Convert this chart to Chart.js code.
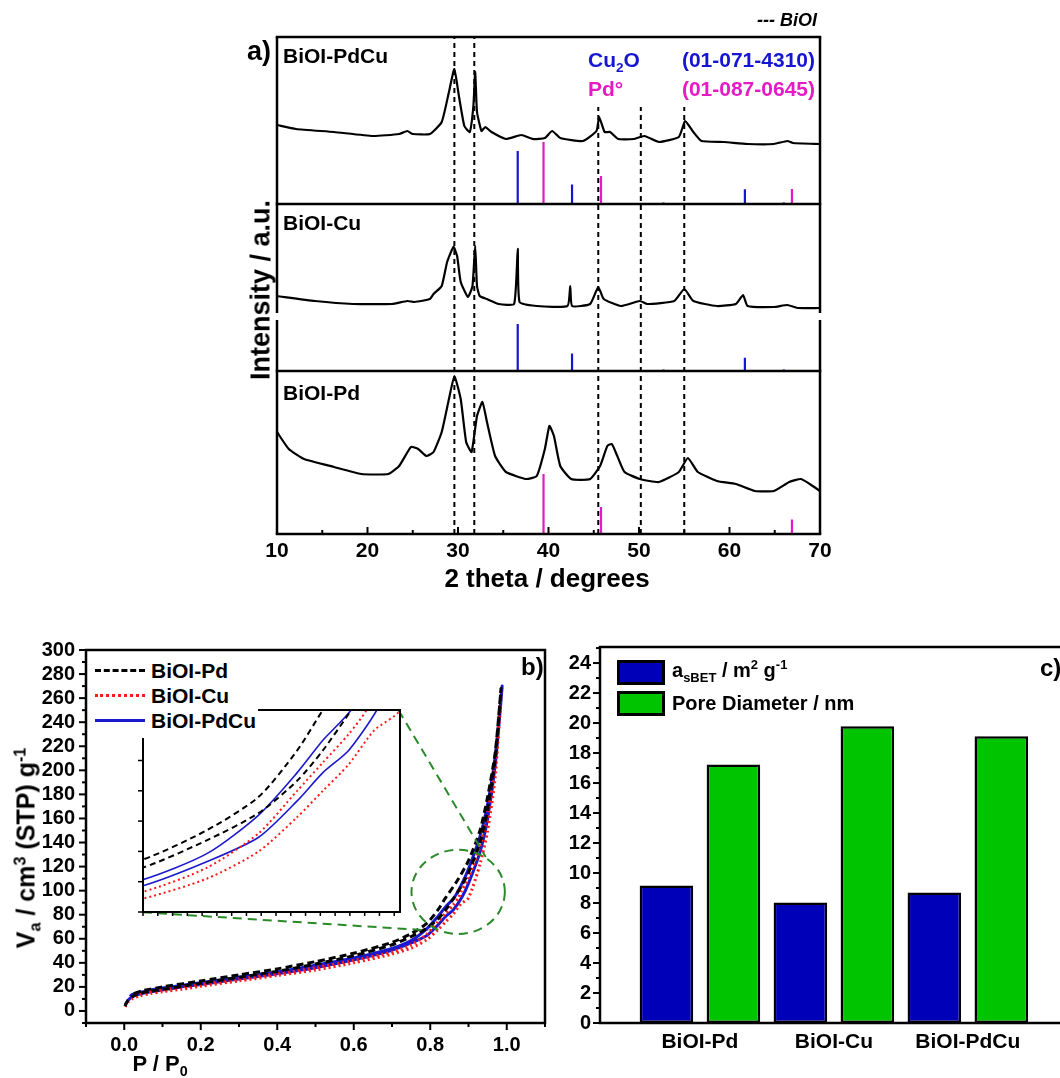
<!DOCTYPE html>
<html><head><meta charset="utf-8">
<script src="https://cdn.jsdelivr.net/npm/chart.js@4.4.1/dist/chart.umd.min.js"></script>
<style>
html,body{margin:0;padding:0;background:#fff;width:1060px;height:1078px;overflow:hidden;font-family:"Liberation Sans",Arial,sans-serif;}
#wrap{position:relative;width:1060px;height:1078px;overflow:hidden;}
canvas{position:absolute;}
.t{position:absolute;font-weight:bold;white-space:nowrap;color:#000;line-height:1;}
.rot{position:absolute;font-weight:bold;white-space:nowrap;color:#000;line-height:1;transform:translate(-50%,-50%) rotate(-90deg);}
.ctr{transform:translate(-50%,-50%);}
sub,sup{font-size:65%;line-height:0;}
.ls{position:absolute;height:0;}
</style></head><body><div id="wrap">
<canvas id="ca" style="left:0;top:0" width="1060" height="600"></canvas>
<canvas id="cb" style="left:0;top:600px" width="560" height="478"></canvas>
<canvas id="cc" style="left:560px;top:600px" width="540" height="478"></canvas>
<canvas id="ci" style="left:133px;top:700px" width="280" height="225"></canvas>

<!-- panel a text -->
<div class="t" style="left:247px;top:38px;font-size:27px">a)</div>
<div class="t" style="left:283px;top:45px;font-size:21px">BiOI-PdCu</div>
<div class="t" style="right:243px;top:11px;font-size:18px;font-style:italic">--- BiOI</div>
<div class="t" style="left:588px;top:49px;font-size:21px;color:#1616d2">Cu<sub>2</sub>O</div>
<div class="t" style="right:245px;top:49px;font-size:21px;color:#1616d2">(01-071-4310)</div>
<div class="t" style="left:588px;top:78px;font-size:21px;color:#e41bc4">Pd°</div>
<div class="t" style="right:245px;top:78px;font-size:21px;color:#e41bc4">(01-087-0645)</div>
<div class="t" style="left:283px;top:212px;font-size:21px">BiOI-Cu</div>
<div class="t" style="left:283px;top:382px;font-size:21px">BiOI-Pd</div>
<div class="rot" style="left:261px;top:290px;font-size:27px">Intensity / a.u.</div>
<div class="t ctr" style="left:547px;top:578px;font-size:26px">2 theta / degrees</div>

<!-- panel b text -->
<div class="t" style="left:90px;top:656px;width:168px;height:82px;background:#fff"></div>
<div class="ls" style="left:95px;top:669px;width:50px;border-top:3px dashed #000"></div>
<div class="ls" style="left:95px;top:694px;width:50px;border-top:3px dotted #ff1a1a"></div>
<div class="ls" style="left:95px;top:719px;width:50px;border-top:3px solid #1a1acc"></div>
<div class="t" style="left:151px;top:660px;font-size:21px">BiOI-Pd</div>
<div class="t" style="left:151px;top:685px;font-size:21px">BiOI-Cu</div>
<div class="t" style="left:151px;top:710px;font-size:21px">BiOI-PdCu</div>
<div class="t" style="left:521px;top:655px;font-size:24px">b)</div>
<div class="rot" style="left:26px;top:848px;font-size:25px">V<sub>a</sub> / cm<sup>3</sup> (STP) g<sup>-1</sup></div>
<div class="t ctr" style="left:160px;top:1064px;font-size:22px">P / P<sub>0</sub></div>

<!-- panel c text -->
<div class="t" style="left:617px;top:660px;width:48px;height:25px;box-sizing:border-box;border:3px solid #000;background:#0000b8"></div>
<div class="t" style="left:617px;top:691px;width:48px;height:25px;box-sizing:border-box;border:3px solid #000;background:#00c400"></div>
<div class="t" style="left:672px;top:660px;font-size:20px">a<sub>sBET</sub> / m<sup>2</sup> g<sup>-1</sup></div>
<div class="t" style="left:672px;top:693px;font-size:20px">Pore Diameter / nm</div>
<div class="t" style="left:1040px;top:656px;font-size:24px">c)</div>
</div>
<script>
// ---------- Panel a: XRD ----------
const pdcuTheta = [10,12.1,16.3,20.6,23.5,24.4,25,26.9,28.2,29,29.6,30.1,30.7,31.3,31.7,31.9,32.1,32.6,33,33.7,35.3,37,38.3,39.6,40.4,41.3,43.8,45.3,45.6,46.2,46.8,47.7,49.4,50.6,52.2,54.4,55.1,56,56.9,59.4,62,64.9,66.4,67,70];
const pdcuI     = [79,75,72,68,70,73,70,70,82,112,135,108,78,72,98,132,92,73,77,72,65,69,65,66,73,66,63,73,87,72,72,65,65,68,62,67,83,72,63,62,60,60,63,61,60];
const cuTheta = [10,14.2,18.4,22.7,24.4,25.2,26.9,27.3,28.2,28.8,29.5,29.9,30.3,31.1,31.6,31.9,32.1,32.4,33.2,34.5,36.2,36.6,36.8,38.7,42.1,42.4,42.6,44.6,45.5,46.1,48,50.1,50.9,53.9,55,56,58.6,60.7,61.5,62,64.9,66.4,67.5,70];
const cuI     = [75,70,67,67,70,69,72,77,85,109,124,115,89,74,85,125,85,75,72,67,67,122,69,65,65,85,65,67,84,72,65,70,67,70,82,70,65,67,76,65,64,66,63,63];
const pdTheta = [10,11.3,13,16.3,19.3,22.3,23.5,24.8,25.6,26.5,27.3,28.2,29,29.6,30.3,30.9,31.5,32.1,32.7,33.2,34.1,35.3,37.5,38.7,39.6,40.1,40.6,41.3,42.5,44.6,45.7,46.5,47,47.6,48.4,50.1,52.2,54.4,55.4,56.5,58.6,60.7,62.8,64.9,66.6,67.9,69.2,70];
const pdI     = [102,85,75,67,60,60,68,87,85,78,82,102,135,158,135,92,82,118,132,112,78,62,55,58,85,108,98,68,55,55,68,88,90,78,62,55,52,62,76,62,53,50,43,43,52,55,48,43];
const cu2oPos = [36.6,42.6,52.7,61.7,66.0];
const cu2oRel = [100,37,3,28,3];
const pdRefPos = [39.45,45.8,66.9];
const pdRefRel = [100,45,24];
const bioiPos = [29.6,31.8,45.5,50.2,55.0];
const xrdTicks = [10,20,30,40,50,60,70];

// ---------- Panel b: N2 isotherms (adsorption then desorption) ----------
const pdP = [0.002,0.01,0.02,0.04,0.07,0.1,0.15,0.2,0.3,0.4,0.5,0.6,0.7,0.75,0.79,0.82,0.84,0.862,0.88,0.9,0.93,0.95,0.97,0.985,0.97,0.95,0.93,0.9,0.87,0.84,0.82,0.79,0.75,0.7,0.6,0.5,0.4,0.3,0.2,0.1,0.05,0.02];
const pdV = [4,9,12,14.5,16.5,18,20.5,23,28,33,39,46,55,61.8,68.5,76.5,84,94,103,115,140,168,210,268,215,178,150,125,108,94,84,72.5,64.3,57,48,41,35,30,25,20,17,14];
const cuP = [0.002,0.01,0.02,0.04,0.07,0.1,0.15,0.2,0.3,0.4,0.5,0.6,0.7,0.75,0.79,0.82,0.84,0.86,0.88,0.9,0.93,0.95,0.97,0.985,0.97,0.95,0.93,0.9,0.88,0.874,0.86,0.84,0.82,0.79,0.75,0.7,0.6,0.5,0.4,0.3,0.2,0.1,0.05,0.02];
const cuV = [3.5,7.5,10,12.5,14.5,16,18,20.5,25,29.5,34,40,47.3,52.3,59,67.5,74,80.5,89,94,122,150,195,265,208,165,137,110,99,94,88,81,74,63.5,55,49,42,36,31,26.5,22,17.5,15,12];
const pdcuP = [0.002,0.01,0.02,0.04,0.07,0.1,0.15,0.2,0.3,0.4,0.5,0.6,0.7,0.75,0.79,0.82,0.84,0.86,0.882,0.9,0.93,0.95,0.97,0.988,0.97,0.95,0.93,0.9,0.88,0.862,0.84,0.82,0.79,0.75,0.7,0.6,0.5,0.4,0.3,0.2,0.1,0.05,0.02,0.015];
const pdcuV = [5,9,11.5,14,16,17.5,20,22,26.5,31,36,42.5,50.5,56.5,62.5,71.5,78.5,84,94,106,132,160,205,270,212,172,145,118,104,94,86.5,78.5,68,58.5,52,44,38,32.5,28,23.5,19,16,13.5,12];

// ---------- Panel c: textural properties ----------
const samples = ['BiOI-Pd','BiOI-Cu','BiOI-PdCu'];
const asBET = [9.16,8.03,8.70];
const poreDiameter = [17.24,19.79,19.12];

// ===== helpers =====
Chart.defaults.font.family = "'Liberation Sans', Arial, sans-serif";
Chart.defaults.font.weight = 'bold';
Chart.defaults.color = '#000';
const xy = (xs, ys, off=0) => xs.map((v,i)=>({x:v, y:ys[i]+off}));
function sticks(pos, rel, base, scale) {
  const pts=[]; pos.forEach((p,i)=>{ pts.push({x:p,y:base},{x:p,y:base+rel[i]*scale},{x:p,y:null}); }); return pts;
}
function L(ctx,x1,y1,x2,y2){ctx.beginPath();ctx.moveTo(x1,y1);ctx.lineTo(x2,y2);ctx.stroke();}
const noPlug = {legend:{display:false}, tooltip:{enabled:false}};

// ===== Panel a =====
const BASE_TOP = 330, BASE_MID = 163, BASE_BOT = 0, YMAX_A = 497;
const frameA = {id:'frameA', afterDraw(chart){
  const {ctx, chartArea:a, scales:{x,y}} = chart;
  ctx.save(); ctx.strokeStyle='#000'; ctx.lineWidth=2.5; ctx.lineCap='square'; ctx.setLineDash([]);
  L(ctx,a.left,a.top,a.right,a.top); L(ctx,a.left,a.bottom,a.right,a.bottom);
  [BASE_TOP,BASE_MID].forEach(b=>{const p=y.getPixelForValue(b); L(ctx,a.left,p,a.right,p);});
  const g1=y.getPixelForValue(221), g2=y.getPixelForValue(214);
  ctx.lineCap='butt';
  [a.left,a.right].forEach(px=>{L(ctx,px,a.top,px,g1);L(ctx,px,g2,px,a.bottom);});
  ctx.lineWidth=2;
  for(let v=10;v<=70;v+=5){const px=x.getPixelForValue(v); L(ctx,px,a.bottom,px,a.bottom-(v%10?4:7));}
  ctx.restore();
}};
const bioiTop = bioiPos.map((p,i)=> i<2 ? YMAX_A : 427);
new Chart(document.getElementById('ca'), {
  type:'line',
  data:{datasets:[
    {data: bioiPos.flatMap((p,i)=>[{x:p,y:0},{x:p,y:bioiTop[i]},{x:p,y:null}]), borderColor:'#000', borderWidth:2, borderDash:[5,4], pointRadius:0, spanGaps:false},
    {data: sticks(cu2oPos,cu2oRel,BASE_TOP,0.53), borderColor:'#1616d2', borderWidth:2.2, pointRadius:0, spanGaps:false},
    {data: sticks(pdRefPos,pdRefRel,BASE_TOP,0.62), borderColor:'#e41bc4', borderWidth:2.2, pointRadius:0, spanGaps:false},
    {data: sticks(cu2oPos,cu2oRel,BASE_MID,0.47), borderColor:'#1616d2', borderWidth:2.2, pointRadius:0, spanGaps:false},
    {data: sticks(pdRefPos,pdRefRel,BASE_BOT,0.60), borderColor:'#e41bc4', borderWidth:2.2, pointRadius:0, spanGaps:false},
    {data: xy(pdcuTheta,pdcuI,BASE_TOP), borderColor:'#000', borderWidth:2.2, pointRadius:0, tension:0.15},
    {data: xy(cuTheta,cuI,BASE_MID), borderColor:'#000', borderWidth:2.2, pointRadius:0, tension:0.15},
    {data: xy(pdTheta,pdI,BASE_BOT), borderColor:'#000', borderWidth:2.2, pointRadius:0, tension:0.15}
  ]},
  options:{responsive:false, animation:false, events:[],
    layout:{padding:{left:277,right:240,top:37,bottom:20}},
    plugins:noPlug,
    scales:{
      x:{type:'linear',min:10,max:70, afterFit(s){s.height=46;},
         afterBuildTicks(s){s.ticks=xrdTicks.map(v=>({value:v}));},
         grid:{display:false,drawTicks:false}, border:{display:false},
         ticks:{padding:5,autoSkip:false,maxRotation:0,font:{size:21,weight:'bold'},color:'#000'}},
      y:{type:'linear',min:0,max:YMAX_A,display:false}
    }},
  plugins:[frameA]
});

// ===== Panel b =====
const ELL = {cx:0.873, cy:99, rx:0.122, ry:35};
const CONN = [[0.717,250,0.945,128],[0.049,82,0.795,67]];
const frameB = {id:'frameB', afterDraw(chart){
  const {ctx, chartArea:a, scales:{x,y}} = chart;
  ctx.save(); ctx.strokeStyle='#000'; ctx.lineWidth=2.5; ctx.setLineDash([]);
  ctx.strokeRect(a.left,a.top,a.right-a.left,a.bottom-a.top);
  ctx.lineWidth=2;
  for(let v=-10;v<=300;v+=10){const p=y.getPixelForValue(v); L(ctx,a.left,p,a.left-(v%20===0?7:4),p);}
  for(let k=-1;k<=11;k++){const p=x.getPixelForValue(k/10); L(ctx,p,a.bottom,p,a.bottom+(k%2===0?7:4));}
  ctx.strokeStyle='#2a8a2a'; ctx.lineWidth=2; ctx.setLineDash([9,6]);
  const cx=x.getPixelForValue(ELL.cx), cy=y.getPixelForValue(ELL.cy);
  const rx=x.getPixelForValue(ELL.cx+ELL.rx)-cx, ry=cy-y.getPixelForValue(ELL.cy+ELL.ry);
  ctx.beginPath(); ctx.ellipse(cx,cy,rx,ry,0,0,Math.PI*2); ctx.stroke();
  CONN.forEach(c=>L(ctx,x.getPixelForValue(c[0]),y.getPixelForValue(c[1]),x.getPixelForValue(c[2]),y.getPixelForValue(c[3])));
  ctx.restore();
}};
function isoSets(w){
  return [
    {data:xy(pdP,pdV), borderColor:'#000', borderWidth:w, borderDash:w>2?[7,4]:[6,4], pointRadius:0, tension:0.25},
    {data:xy(cuP,cuV), borderColor:'#ff1a1a', borderWidth:w, borderDash:[2,3], pointRadius:0, tension:0.25},
    {data:xy(pdcuP,pdcuV), borderColor:'#1a1acc', borderWidth:w>2?w:1.6, pointRadius:0, tension:0.25}
  ];
}
new Chart(document.getElementById('cb'), {
  type:'line',
  data:{datasets:isoSets(3)},
  options:{responsive:false, animation:false, events:[],
    layout:{padding:{left:0,right:15,top:50,bottom:0}},
    plugins:noPlug,
    scales:{
      x:{type:'linear',min:-0.1,max:1.1, afterFit(s){s.height=55;},
         afterBuildTicks(s){s.ticks=[0,0.2,0.4,0.6,0.8,1.0].map(v=>({value:v}));},
         grid:{display:false,drawTicks:false}, border:{display:false},
         ticks:{padding:10,autoSkip:false,maxRotation:0,font:{size:20,weight:'bold'},color:'#000',callback:v=>v.toFixed(1)}},
      y:{type:'linear',min:-10,max:300, afterFit(s){s.width=86;},
         afterBuildTicks(s){const t=[];for(let v=0;v<=300;v+=20)t.push({value:v});s.ticks=t;},
         grid:{display:false,drawTicks:false}, border:{display:false},
         ticks:{padding:11,autoSkip:false,font:{size:20,weight:'bold'},color:'#000'}}
    }},
  plugins:[frameB]
});

// inset (zoom of the hysteresis region)
const frameI = {id:'frameI', afterDraw(chart){
  const {ctx, chartArea:a, scales:{x,y}} = chart;
  ctx.save(); ctx.strokeStyle='#000'; ctx.lineWidth=2; ctx.setLineDash([]);
  ctx.strokeRect(a.left,a.top,a.right-a.left,a.bottom-a.top);
  ctx.lineWidth=1.5;
  for(let v=44;v<=94;v+=7.5){const p=y.getPixelForValue(v); L(ctx,a.left,p,a.left-5,p);}
  for(let v=0.70;v<=0.9001;v+=0.0115){const p=x.getPixelForValue(v); L(ctx,p,a.bottom,p,a.bottom+4);}
  ctx.restore();
}};
new Chart(document.getElementById('ci'), {
  type:'line',
  data:{datasets:isoSets(2)},
  options:{responsive:false, animation:false, events:[],
    layout:{padding:{left:10,right:13,top:10,bottom:13}},
    plugins:noPlug,
    scales:{x:{type:'linear',min:0.70,max:0.90,display:false}, y:{type:'linear',min:44,max:94,display:false}}},
  plugins:[frameI]
});

// ===== Panel c =====
const frameC = {id:'frameC', afterDraw(chart){
  const {ctx, chartArea:a, scales:{y}} = chart;
  ctx.save(); ctx.strokeStyle='#000'; ctx.lineWidth=2.5; ctx.setLineDash([]);
  ctx.strokeRect(a.left,a.top,a.right-a.left,a.bottom-a.top);
  ctx.lineWidth=2;
  for(let v=0;v<=25;v+=1){const p=y.getPixelForValue(v); L(ctx,a.left,p,a.left-(v%2===0?7:4),p);}
  ctx.restore();
}};
new Chart(document.getElementById('cc'), {
  type:'bar',
  data:{datasets:[
    {data:samples.map((s,i)=>({x:i+1,y:asBET[i]})), backgroundColor:'#0000b8', borderColor:'#000', borderWidth:2.5, borderSkipped:false},
    {data:samples.map((s,i)=>({x:i+1,y:poreDiameter[i]})), backgroundColor:'#00c400', borderColor:'#000', borderWidth:2.5, borderSkipped:false}
  ]},
  options:{responsive:false, animation:false, events:[],
    categoryPercentage:1.0, barPercentage:0.8,
    layout:{padding:{left:0,right:25,top:47,bottom:0}},
    plugins:noPlug,
    scales:{
      x:{type:'linear',offset:false,min:0.254,max:3.8, afterFit(s){s.height=55;},
         afterBuildTicks(s){s.ticks=samples.map((n,i)=>({value:i+1}));},
         grid:{display:false,drawTicks:false,offset:false}, border:{display:false},
         ticks:{padding:7,autoSkip:false,maxRotation:0,font:{size:21,weight:'bold'},color:'#000',callback:v=>samples[Math.round(v)-1]}},
      y:{type:'linear',min:0,max:25.07, afterFit(s){s.width=40;},
         afterBuildTicks(s){const t=[];for(let v=0;v<=24;v+=2)t.push({value:v});s.ticks=t;},
         grid:{display:false,drawTicks:false}, border:{display:false},
         ticks:{padding:9,autoSkip:false,font:{size:20,weight:'bold'},color:'#000'}}
    }},
  plugins:[frameC]
});
</script>
</body></html>
